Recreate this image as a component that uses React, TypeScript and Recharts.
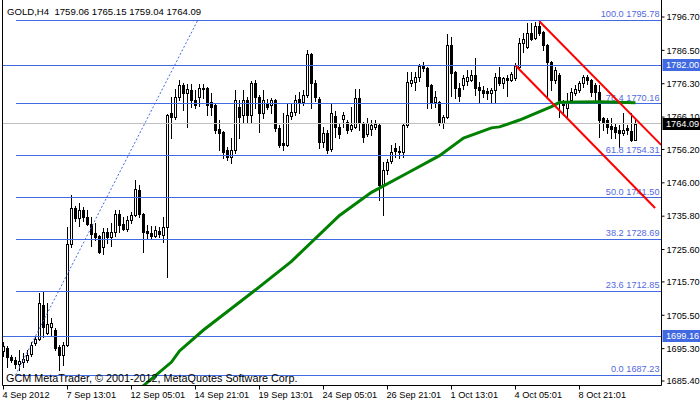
import React from 'react';
import { ComposedChart, Bar, Line, XAxis, YAxis, ReferenceLine } from 'recharts';

// ---- OHLC candles (GOLD, H4), bar index 0..158 ----
const opens = [
  1694.5, 1695.5, 1692.7, 1691.8, 1690.6, 1691.2, 1691.8, 1693.6, 1697.0, 1698.2,
  1708.6, 1700.1, 1701.9, 1701.0, 1695.8, 1693.3, 1696.4, 1727.3, 1738.3, 1735.2,
  1737.7, 1735.5, 1733.4, 1730.6, 1729.7, 1726.4, 1730.9, 1729.4, 1730.9, 1736.4,
  1733.4, 1731.8, 1734.6, 1736.1, 1743.8, 1736.4, 1731.2, 1730.6, 1729.7, 1731.2,
  1730.0, 1732.5, 1767.3, 1766.1, 1772.2, 1775.9, 1773.5, 1774.4, 1771.3, 1772.2,
  1774.7, 1775.0, 1770.7, 1769.8, 1762.4, 1761.5, 1756.0, 1753.9, 1756.0, 1769.2,
  1766.7, 1771.3, 1766.7, 1776.5, 1772.2, 1767.3, 1770.1, 1769.8, 1771.3, 1762.8,
  1758.2, 1757.6, 1766.4, 1767.6, 1771.6, 1770.7, 1772.8, 1785.4, 1776.5, 1771.6,
  1758.5, 1761.2, 1756.3, 1766.5, 1763.1, 1765.5, 1764.6, 1762.4, 1763.1, 1771.9,
  1764.3, 1760.9, 1762.4, 1763.1, 1763.7, 1745.3, 1749.9, 1752.6, 1756.6, 1755.7,
  1755.4, 1763.7, 1776.5, 1776.8, 1778.3, 1782.0, 1781.1, 1775.9, 1770.7, 1770.7,
  1764.3, 1766.1, 1788.1, 1779.9, 1775.0, 1775.9, 1777.2, 1777.4, 1779.0, 1775.4,
  1774.4, 1774.1, 1773.4, 1774.4, 1778.4, 1776.4, 1778.0, 1777.4, 1778.0, 1781.5,
  1788.6, 1787.5, 1791.8, 1790.3, 1793.9, 1792.2, 1788.1, 1783.0, 1777.4, 1779.0,
  1770.8, 1768.8, 1771.3, 1773.4, 1774.4, 1776.4, 1778.3, 1777.4, 1775.9, 1773.9,
  1765.7, 1765.2, 1763.4, 1763.2, 1762.1, 1761.1, 1762.7, 1761.8, 1759.06,
];
const highs = [
  1697.3, 1696.1, 1693.4, 1692.7, 1694.9, 1693.9, 1694.9, 1697.3, 1698.9, 1712.3,
  1712.6, 1709.3, 1704.7, 1701.6, 1696.4, 1697.3, 1732.5, 1742.3, 1738.9, 1739.8,
  1738.6, 1737.7, 1735.5, 1733.7, 1730.0, 1732.2, 1732.2, 1733.7, 1737.7, 1737.7,
  1735.5, 1735.8, 1737.1, 1746.9, 1745.3, 1736.7, 1733.1, 1732.8, 1732.8, 1732.5,
  1735.5, 1767.0, 1772.2, 1774.7, 1777.4, 1776.5, 1776.2, 1776.2, 1774.4, 1776.2,
  1776.2, 1775.3, 1773.5, 1770.1, 1765.2, 1761.8, 1757.0, 1759.7, 1774.4, 1771.3,
  1774.4, 1772.2, 1777.1, 1777.4, 1772.8, 1774.4, 1771.6, 1771.9, 1771.6, 1763.7,
  1767.3, 1770.4, 1770.4, 1772.8, 1773.8, 1774.4, 1786.6, 1785.7, 1777.4, 1772.2,
  1763.1, 1762.1, 1770.4, 1768.0, 1764.3, 1767.6, 1765.2, 1769.2, 1774.7, 1774.7,
  1764.6, 1765.8, 1765.2, 1765.2, 1764.3, 1752.4, 1753.3, 1757.6, 1758.2, 1757.3,
  1764.0, 1779.9, 1779.9, 1779.9, 1782.3, 1783.0, 1781.4, 1776.2, 1774.1, 1770.9,
  1766.7, 1791.5, 1790.6, 1780.2, 1776.5, 1779.0, 1780.5, 1780.5, 1784.1, 1776.9,
  1775.6, 1775.1, 1775.1, 1779.5, 1781.5, 1778.4, 1778.9, 1780.0, 1782.6, 1790.2,
  1791.8, 1794.9, 1794.9, 1795.3, 1795.78, 1792.4, 1788.3, 1783.2, 1781.4, 1779.5,
  1771.3, 1773.4, 1774.9, 1776.0, 1777.2, 1779.1, 1779.0, 1777.6, 1776.4, 1775.9,
  1766.2, 1765.7, 1765.7, 1764.2, 1763.7, 1767.2, 1763.7, 1767.2, 1765.15,
];
const lows = [
  1693.2, 1689.7, 1691.2, 1689.4, 1688.8, 1689.7, 1691.2, 1693.0, 1696.4, 1697.9,
  1698.9, 1699.8, 1699.5, 1694.9, 1688.8, 1690.3, 1696.0, 1726.5, 1734.3, 1732.8,
  1734.3, 1733.0, 1726.8, 1728.5, 1724.5, 1724.1, 1727.6, 1726.8, 1729.7, 1730.9,
  1731.5, 1731.2, 1733.7, 1735.8, 1735.5, 1724.8, 1729.1, 1728.8, 1729.4, 1729.4,
  1727.9, 1717.2, 1759.7, 1765.5, 1771.3, 1768.3, 1763.1, 1769.2, 1768.8, 1769.5,
  1771.9, 1766.7, 1766.7, 1761.2, 1756.0, 1753.6, 1753.0, 1752.1, 1755.2, 1759.7,
  1764.6, 1764.6, 1764.6, 1768.8, 1761.5, 1765.8, 1768.6, 1767.3, 1761.8, 1757.0,
  1756.0, 1757.3, 1765.5, 1766.7, 1767.3, 1769.8, 1772.2, 1768.8, 1771.0, 1756.6,
  1756.9, 1755.1, 1755.7, 1760.0, 1759.7, 1763.1, 1761.2, 1761.8, 1762.7, 1762.1,
  1758.5, 1760.3, 1760.6, 1762.4, 1740.7, 1736.2, 1748.7, 1752.1, 1753.9, 1753.6,
  1753.9, 1763.1, 1775.6, 1774.4, 1777.1, 1780.2, 1768.9, 1768.9, 1769.2, 1763.7,
  1762.7, 1765.8, 1772.5, 1771.8, 1771.0, 1774.7, 1776.0, 1777.1, 1772.9, 1770.3,
  1772.2, 1771.6, 1770.3, 1770.8, 1775.9, 1775.1, 1772.6, 1777.0, 1777.4, 1781.0,
  1786.0, 1787.2, 1789.7, 1789.9, 1791.3, 1786.7, 1771.8, 1774.4, 1776.5, 1766.2,
  1766.7, 1766.2, 1770.8, 1773.0, 1773.8, 1775.2, 1776.3, 1772.4, 1771.3, 1760.1,
  1762.1, 1761.1, 1759.6, 1759.6, 1757.0, 1760.6, 1760.9, 1758.9, 1759.04,
];
const closes = [
  1696.2, 1692.7, 1691.8, 1690.6, 1691.5, 1692.0, 1693.4, 1696.4, 1698.2, 1709.3,
  1701.9, 1702.8, 1703.1, 1695.5, 1693.3, 1696.4, 1727.3, 1738.3, 1735.2, 1737.7,
  1735.5, 1733.4, 1730.2, 1729.4, 1724.8, 1730.9, 1729.4, 1730.9, 1736.4, 1733.1,
  1731.8, 1734.6, 1736.1, 1744.1, 1736.4, 1730.9, 1730.6, 1729.7, 1731.5, 1730.3,
  1732.5, 1766.7, 1766.1, 1772.2, 1775.9, 1773.5, 1774.7, 1771.3, 1769.8, 1775.0,
  1775.0, 1769.8, 1769.2, 1762.1, 1761.2, 1755.4, 1753.9, 1756.0, 1771.3, 1766.1,
  1771.3, 1766.7, 1776.5, 1772.2, 1767.3, 1771.3, 1769.2, 1771.3, 1762.8, 1757.6,
  1757.6, 1766.7, 1767.6, 1771.3, 1770.7, 1772.8, 1785.4, 1776.5, 1772.2, 1758.5,
  1761.2, 1756.0, 1767.3, 1763.1, 1760.9, 1766.8, 1762.2, 1763.7, 1771.9, 1764.3,
  1760.0, 1764.3, 1763.7, 1764.0, 1745.3, 1749.9, 1752.4, 1755.4, 1755.7, 1755.4,
  1763.7, 1776.8, 1777.4, 1778.3, 1781.7, 1781.1, 1775.6, 1770.4, 1772.2, 1764.3,
  1766.1, 1788.1, 1779.6, 1775.0, 1772.5, 1778.0, 1778.4, 1779.0, 1774.9, 1774.4,
  1773.4, 1773.4, 1774.4, 1778.4, 1776.4, 1778.0, 1777.4, 1779.3, 1781.7, 1788.6,
  1789.9, 1791.8, 1790.0, 1793.9, 1791.7, 1788.1, 1783.0, 1777.4, 1780.5, 1771.3,
  1769.8, 1770.8, 1773.9, 1774.6, 1776.6, 1778.4, 1777.4, 1773.9, 1773.9, 1765.2,
  1764.2, 1763.2, 1762.5, 1761.6, 1761.1, 1762.1, 1762.1, 1759.06, 1764.09,
];

// ---- moving average (green), read at selected bars ----
const maIndex = [33, 35, 42, 44, 50, 62, 72, 84, 92, 101, 109, 115, 122, 124, 129, 137, 139, 149, 158];
const maValues = [1682.0, 1684.0, 1691.2, 1694.6, 1701.0, 1712.3, 1722.0, 1736.0, 1743.1, 1749.0, 1754.3, 1759.7, 1762.8, 1763.1, 1765.2, 1769.3, 1770.6, 1770.8, 1770.5];

// ---- axes ----
const xTickIndex = [0, 16, 32, 48, 64, 80, 96, 112, 128, 144];
const xTickLabels = ['4 Sep 2012', '7 Sep 13:01', '12 Sep 05:01', '14 Sep 21:01', '19 Sep 13:01', '24 Sep 05:01', '26 Sep 21:01', '1 Oct 13:01', '4 Oct 05:01', '8 Oct 21:01'];
const priceTicks = [1796.7, 1786.5, 1776.3, 1766.1, 1756.2, 1746.0, 1735.8, 1725.6, 1715.7, 1705.5, 1695.3, 1685.4];
const priceDomain = [1684.03, 1801.9];
const indexDomain = [-0.25, 164.5];

// ---- Fibonacci retracement ----
const fibLevels = ['100.0', '76.4', '61.8', '50.0', '38.2', '23.6', '0.0'];
const fibPrices = [1795.78, 1770.16, 1754.31, 1741.5, 1728.69, 1712.85, 1687.23];
const fibStartIndex = 3;
const fibTrend = [{ x: 3, y: 1687.23 }, { x: 48.6, y: 1795.78 }];

// ---- horizontal price lines ----
const hLinePrices = [1782.0, 1699.16];
const bidPrice = 1764.09;

// ---- red channel ----
const channelUpper = [{ x: 133.95, y: 1795.4 }, { x: 164.4, y: 1757.6 }];
const channelLower = [{ x: 128.05, y: 1781.8 }, { x: 162.9, y: 1738.3 }];

const FONT = "'Liberation Sans', Arial, sans-serif";
const BLUE = '#4169E1';
const FIB_TEXT = '#5468e0';

const data = opens.map((o, i) => {
  const k = maIndex.indexOf(i);
  return { i, o, h: highs[i], l: lows[i], c: closes[i], ma: k >= 0 ? maValues[k] : null };
});

const Candle = (props: any) => {
  const { x, y, width, height, payload } = props;
  if (!payload || x == null || y == null || height == null) return null;
  const { o, h, l, c } = payload;
  const top = Math.min(y, y + height);
  const hh = Math.abs(height);
  const cx = Math.floor(x + width / 2 + 0.25);
  const ppu = h > l ? hh / (h - l) : 0;
  const yTop = Math.round(top);
  const yBot = Math.round(top + hh);
  const bt = Math.round(top + (h - Math.max(o, c)) * ppu);
  const bb = Math.round(top + (h - Math.min(o, c)) * ppu);
  const bh = Math.max(1, bb - bt + 1);
  const bull = c >= o;
  return (
    <g>
      <rect x={cx} y={yTop} width={1} height={Math.max(1, yBot - yTop + 1)} fill="#000" />
      <rect x={cx - 1} y={bt} width={3} height={bh} fill="#000" />
      {bull && bh > 2 ? <rect x={cx} y={bt + 1} width={1} height={bh - 2} fill="#fff" /> : null}
    </g>
  );
};

const XTick = (props: any) => {
  const { x, y, payload } = props;
  const k = xTickIndex.indexOf(payload.value);
  return (
    <text x={x - 1} y={y + 8} fontSize={9.2} fontFamily={FONT} fill="#000" textAnchor="start">
      {k >= 0 ? xTickLabels[k] : ''}
    </text>
  );
};

const YTick = (props: any) => {
  const { x, y, payload } = props;
  return (
    <text x={x} y={y} dy={3.3} fontSize={9.2} fontFamily={FONT} fill="#000" textAnchor="start">
      {Number(payload.value).toFixed(2)}
    </text>
  );
};

const boxLabel = (text: string, bg: string) => (props: any) => {
  const vb = props.viewBox || {};
  const left = vb.x + vb.width + 1;
  const cy = Math.round(vb.y);
  return (
    <g>
      <rect x={left} y={cy - 6} width={40} height={12} fill={bg} />
      <text x={left + 3.5} y={cy + 3.3} fontSize={9.2} fontFamily={FONT} fill="#fff">{text}</text>
    </g>
  );
};

const fibLabel = (level: string, price: number) => (props: any) => {
  const vb = props.viewBox || {};
  return (
    <text x={vb.x + vb.width - 2} y={vb.y - 3} fontSize={9.2} fontFamily={FONT} fill={FIB_TEXT} textAnchor="end">
      {`${level} ${price.toFixed(2)}`}
    </text>
  );
};

export default function App() {
  return (
    <div style={{ position: 'absolute', left: 0, top: 0, width: 700, height: 402, background: '#fff' }}>
      <ComposedChart width={700} height={402} data={data} margin={{ top: 0, right: 0, bottom: 0, left: 0 }}>
        <XAxis
          dataKey="i"
          type="number"
          domain={indexDomain}
          allowDataOverflow
          ticks={xTickIndex}
          interval={0}
          height={16.5}
          tickSize={4}
          tickMargin={0}
          axisLine={{ stroke: '#000' }}
          tickLine={{ stroke: '#000' }}
          tick={<XTick />}
        />
        <YAxis
          yAxisId="l"
          orientation="left"
          width={2.5}
          domain={[0, 1]}
          tick={false}
          tickLine={false}
          axisLine={{ stroke: '#000' }}
        />
        <YAxis
          yAxisId="r"
          orientation="right"
          width={38.5}
          domain={priceDomain}
          allowDataOverflow
          ticks={priceTicks}
          interval={0}
          tickSize={3}
          tickMargin={2}
          axisLine={{ stroke: '#000' }}
          tickLine={{ stroke: '#000' }}
          tick={<YTick />}
        />
        <ReferenceLine yAxisId="r" y={bidPrice} stroke="#c0c0c0" strokeWidth={1} shapeRendering="crispEdges" />
        {fibPrices.map((p, k) => (
          <ReferenceLine
            key={'fib' + k}
            yAxisId="r"
            segment={[{ x: fibStartIndex, y: p }, { x: indexDomain[1], y: p }]}
            ifOverflow="visible"
            stroke={BLUE}
            strokeWidth={1}
            shapeRendering="crispEdges"
            label={fibLabel(fibLevels[k], p)}
          />
        ))}
        {hLinePrices.map((p, k) => (
          <ReferenceLine key={'h' + k} yAxisId="r" y={p} stroke={BLUE} strokeWidth={1} shapeRendering="crispEdges" />
        ))}
        <ReferenceLine yAxisId="r" segment={fibTrend} ifOverflow="hidden" stroke={BLUE} strokeWidth={1} strokeDasharray="2 2" />
        <Bar yAxisId="r" dataKey={(d: any) => [d.l, d.h]} barSize={3} shape={Candle} isAnimationActive={false} />
        <Line
          yAxisId="r"
          dataKey="ma"
          stroke="#008000"
          strokeWidth={3}
          dot={false}
          activeDot={false}
          connectNulls
          type="linear"
          isAnimationActive={false}
        />
        <ReferenceLine yAxisId="r" segment={channelUpper} ifOverflow="hidden" stroke="#ff0000" strokeWidth={2} />
        <ReferenceLine yAxisId="r" segment={channelLower} ifOverflow="hidden" stroke="#ff0000" strokeWidth={2} />
        <ReferenceLine yAxisId="r" y={hLinePrices[0]} stroke="none" label={boxLabel('1782.00', BLUE)} />
        <ReferenceLine yAxisId="r" y={hLinePrices[1]} stroke="none" label={boxLabel('1699.16', BLUE)} />
        <ReferenceLine yAxisId="r" y={bidPrice} stroke="none" label={boxLabel('1764.09', '#000')} />
      </ComposedChart>
      <svg width={700} height={402} style={{ position: 'absolute', left: 0, top: 0, pointerEvents: 'none' }}>
        <text x={7} y={14.5} fontSize={9.6} fontFamily={FONT} fill="#000" xmlSpace="preserve">
          GOLD,H4  1759.06 1765.15 1759.04 1764.09
        </text>
        <text x={6} y={382} fontSize={10.8} fontFamily={FONT} fill="#000">
          GCM MetaTrader, © 2001-2012, MetaQuotes Software Corp.
        </text>
      </svg>
    </div>
  );
}
